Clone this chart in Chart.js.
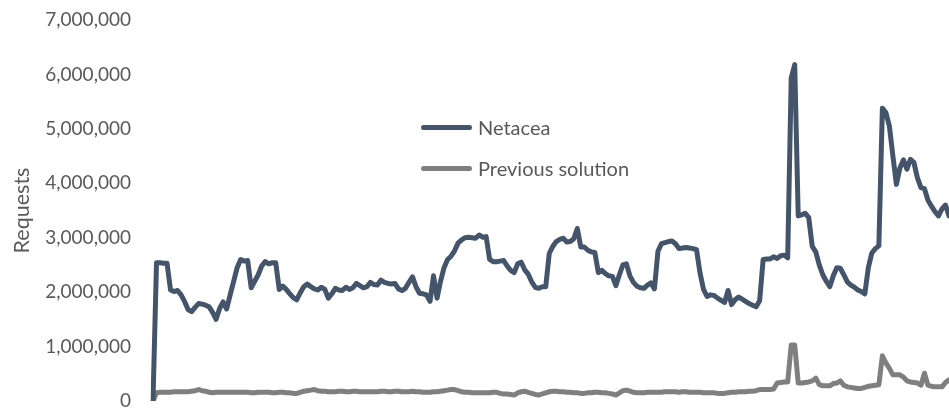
<!DOCTYPE html>
<html>
<head>
<meta charset="utf-8">
<script src="https://cdn.jsdelivr.net/npm/chart.js@4"></script>
<style>
  html, body { margin: 0; padding: 0; background: #fff; overflow: hidden; }
  #wrap { position: relative; width: 949px; height: 408px; }
  #legend { position: absolute; left: 421px; top: 113px; font-family: Lato, sans-serif; font-size: 20px; color: #595959; }
  .item { display: flex; align-items: center; height: 28px; margin-bottom: 13px; }
  .swatch { width: 51px; height: 5px; border-radius: 3px; margin-right: 6px; }
</style>
</head>
<body>
<div id="wrap">
  <canvas id="requestsChart"></canvas>
  <div id="legend"></div>
</div>
<script>
// Requests per day (millions)
const netacea = [
  0, 2.54, 2.54, 2.53, 2.53, 2.04, 2.01, 2.03, 1.95, 1.83,
  1.68, 1.64, 1.72, 1.79, 1.78, 1.76, 1.73, 1.63, 1.50, 1.70,
  1.82, 1.69, 1.95, 2.20, 2.45, 2.60, 2.57, 2.58, 2.08, 2.20,
  2.32, 2.48, 2.56, 2.52, 2.54, 2.54, 2.05, 2.11, 2.05, 1.97,
  1.90, 1.86, 1.99, 2.10, 2.15, 2.10, 2.06, 2.04, 2.09, 2.05,
  1.89, 1.97, 2.07, 2.04, 2.03, 2.09, 2.05, 2.08, 2.16, 2.12,
  2.08, 2.10, 2.18, 2.14, 2.13, 2.22, 2.18, 2.16, 2.15, 2.16,
  2.06, 2.03, 2.07, 2.18, 2.28, 2.10, 1.98, 1.97, 1.95, 1.83,
  2.30, 1.89, 2.20, 2.45, 2.60, 2.66, 2.76, 2.90, 2.96, 3.00,
  3.01, 3.00, 2.99, 3.05, 3.01, 3.02, 2.60, 2.56, 2.56, 2.57,
  2.58, 2.48, 2.40, 2.36, 2.52, 2.55, 2.41, 2.33, 2.19, 2.09,
  2.07, 2.10, 2.10, 2.71, 2.84, 2.93, 2.97, 2.99, 2.92, 2.93,
  2.98, 3.17, 2.83, 2.83, 2.77, 2.74, 2.73, 2.36, 2.40, 2.34,
  2.30, 2.29, 2.12, 2.32, 2.50, 2.52, 2.30, 2.18, 2.11, 2.08,
  2.07, 2.13, 2.17, 2.06, 2.75, 2.89, 2.91, 2.93, 2.94, 2.89,
  2.80, 2.81, 2.82, 2.81, 2.80, 2.78, 2.35, 2.05, 1.92, 1.95,
  1.94, 1.89, 1.85, 1.81, 2.03, 1.77, 1.86, 1.91, 1.87, 1.83,
  1.79, 1.76, 1.73, 1.84, 2.60, 2.61, 2.61, 2.65, 2.62, 2.67,
  2.68, 2.63, 5.93, 6.18, 3.40, 3.42, 3.45, 3.37, 2.84, 2.74,
  2.50, 2.32, 2.20, 2.10, 2.30, 2.45, 2.44, 2.32, 2.19, 2.13,
  2.09, 2.04, 2.01, 1.97, 2.45, 2.72, 2.80, 2.85, 5.38, 5.30,
  5.05, 4.50, 3.98, 4.28, 4.43, 4.26, 4.44, 4.38, 4.10, 3.92,
  3.90, 3.69, 3.58, 3.48, 3.40, 3.53, 3.60, 3.40
];

const previous = [
  0, 0.15, 0.16, 0.16, 0.16, 0.16, 0.17, 0.17, 0.17, 0.17,
  0.17, 0.18, 0.19, 0.21, 0.19, 0.18, 0.16, 0.15, 0.16, 0.16,
  0.16, 0.16, 0.16, 0.16, 0.16, 0.16, 0.16, 0.16, 0.15, 0.15,
  0.16, 0.16, 0.16, 0.16, 0.15, 0.15, 0.16, 0.16, 0.15, 0.15,
  0.14, 0.14, 0.16, 0.18, 0.19, 0.20, 0.21, 0.19, 0.18, 0.18,
  0.17, 0.17, 0.17, 0.18, 0.18, 0.17, 0.17, 0.18, 0.18, 0.17,
  0.17, 0.17, 0.17, 0.17, 0.17, 0.18, 0.18, 0.17, 0.17, 0.18,
  0.18, 0.17, 0.17, 0.17, 0.18, 0.17, 0.17, 0.16, 0.16, 0.16,
  0.17, 0.17, 0.18, 0.19, 0.20, 0.21, 0.21, 0.19, 0.17, 0.16,
  0.16, 0.15, 0.15, 0.15, 0.15, 0.15, 0.15, 0.16, 0.16, 0.14,
  0.13, 0.13, 0.12, 0.11, 0.15, 0.17, 0.18, 0.16, 0.14, 0.12,
  0.11, 0.13, 0.15, 0.17, 0.18, 0.18, 0.17, 0.17, 0.16, 0.16,
  0.15, 0.15, 0.14, 0.14, 0.15, 0.15, 0.16, 0.16, 0.15, 0.15,
  0.14, 0.13, 0.11, 0.15, 0.19, 0.20, 0.18, 0.16, 0.15, 0.15,
  0.15, 0.16, 0.16, 0.16, 0.16, 0.16, 0.17, 0.17, 0.17, 0.17,
  0.16, 0.17, 0.17, 0.16, 0.16, 0.16, 0.16, 0.15, 0.15, 0.15,
  0.15, 0.14, 0.14, 0.14, 0.15, 0.16, 0.16, 0.17, 0.17, 0.17,
  0.18, 0.18, 0.19, 0.21, 0.21, 0.21, 0.21, 0.22, 0.33, 0.34,
  0.35, 0.35, 1.03, 1.03, 0.33, 0.33, 0.34, 0.35, 0.37, 0.42,
  0.30, 0.28, 0.28, 0.28, 0.32, 0.33, 0.37, 0.29, 0.26, 0.25,
  0.24, 0.23, 0.23, 0.25, 0.27, 0.28, 0.29, 0.30, 0.83, 0.70,
  0.60, 0.48, 0.48, 0.48, 0.44, 0.37, 0.35, 0.34, 0.33, 0.29,
  0.51, 0.29, 0.27, 0.26, 0.26, 0.26, 0.34, 0.39
];

const yTicks = [0, 1, 2, 3, 4, 5, 6, 7];   // millions
const seriesNames = ['Netacea', 'Previous solution'];
const seriesColors = ['#44546A', '#7F7F7F'];

// x axis is not shown in the picture, days are just numbered
const days = netacea.map((v, i) => i + 1);

Chart.defaults.font.family = 'Lato';
Chart.defaults.color = '#595959';

const ctx = document.getElementById('requestsChart').getContext('2d');
const chart = new Chart(ctx, {
  type: 'line',
  data: {
    labels: days,
    datasets: [
      {
        label: seriesNames[0],
        data: netacea.map(v => v * 1e6),
        borderColor: seriesColors[0],
        borderWidth: 5,
        pointRadius: 0,
        borderJoinStyle: 'round',
        borderCapStyle: 'round',
        tension: 0
      },
      {
        label: seriesNames[1],
        data: previous.map(v => v * 1e6),
        borderColor: seriesColors[1],
        borderWidth: 5,
        pointRadius: 0,
        borderJoinStyle: 'round',
        borderCapStyle: 'round',
        tension: 0
      }
    ]
  },
  options: {
    responsive: true,
    maintainAspectRatio: false,
    animation: false,
    layout: { padding: { top: 20, bottom: 7, left: 0, right: 0 } },
    plugins: {
      legend: { display: false },
      tooltip: { enabled: false }
    },
    scales: {
      x: { display: false, offset: false },
      y: {
        min: 0,
        max: yTicks[yTicks.length - 1] * 1e6,
        grid: { display: false, drawTicks: false },
        border: { display: false },
        afterBuildTicks: (scale) => {
          scale.ticks = yTicks.map(v => ({ value: v * 1e6 }));
        },
        ticks: {
          padding: 22,
          font: { size: 19 },
          color: '#595959',
          callback: (v) => Number(v).toLocaleString('en-US')
        },
        title: {
          display: true,
          text: 'Requests',
          font: { size: 21.5 },
          color: '#595959',
          padding: { top: 9, bottom: 0 }
        },
        afterFit: (scale) => {
          scale.width = 153;
          scale.paddingTop = 0;
          scale.paddingBottom = 0;
        }
      }
    }
  }
});

// legend drawn as html, in the middle of the plot like the original
const legendBox = document.getElementById('legend');
chart.data.datasets.forEach(ds => {
  const row = document.createElement('div');
  row.className = 'item';
  const sw = document.createElement('span');
  sw.className = 'swatch';
  sw.style.background = ds.borderColor;
  const txt = document.createElement('span');
  txt.textContent = ds.label;
  row.appendChild(sw);
  row.appendChild(txt);
  legendBox.appendChild(row);
});
</script>
</body>
</html>
